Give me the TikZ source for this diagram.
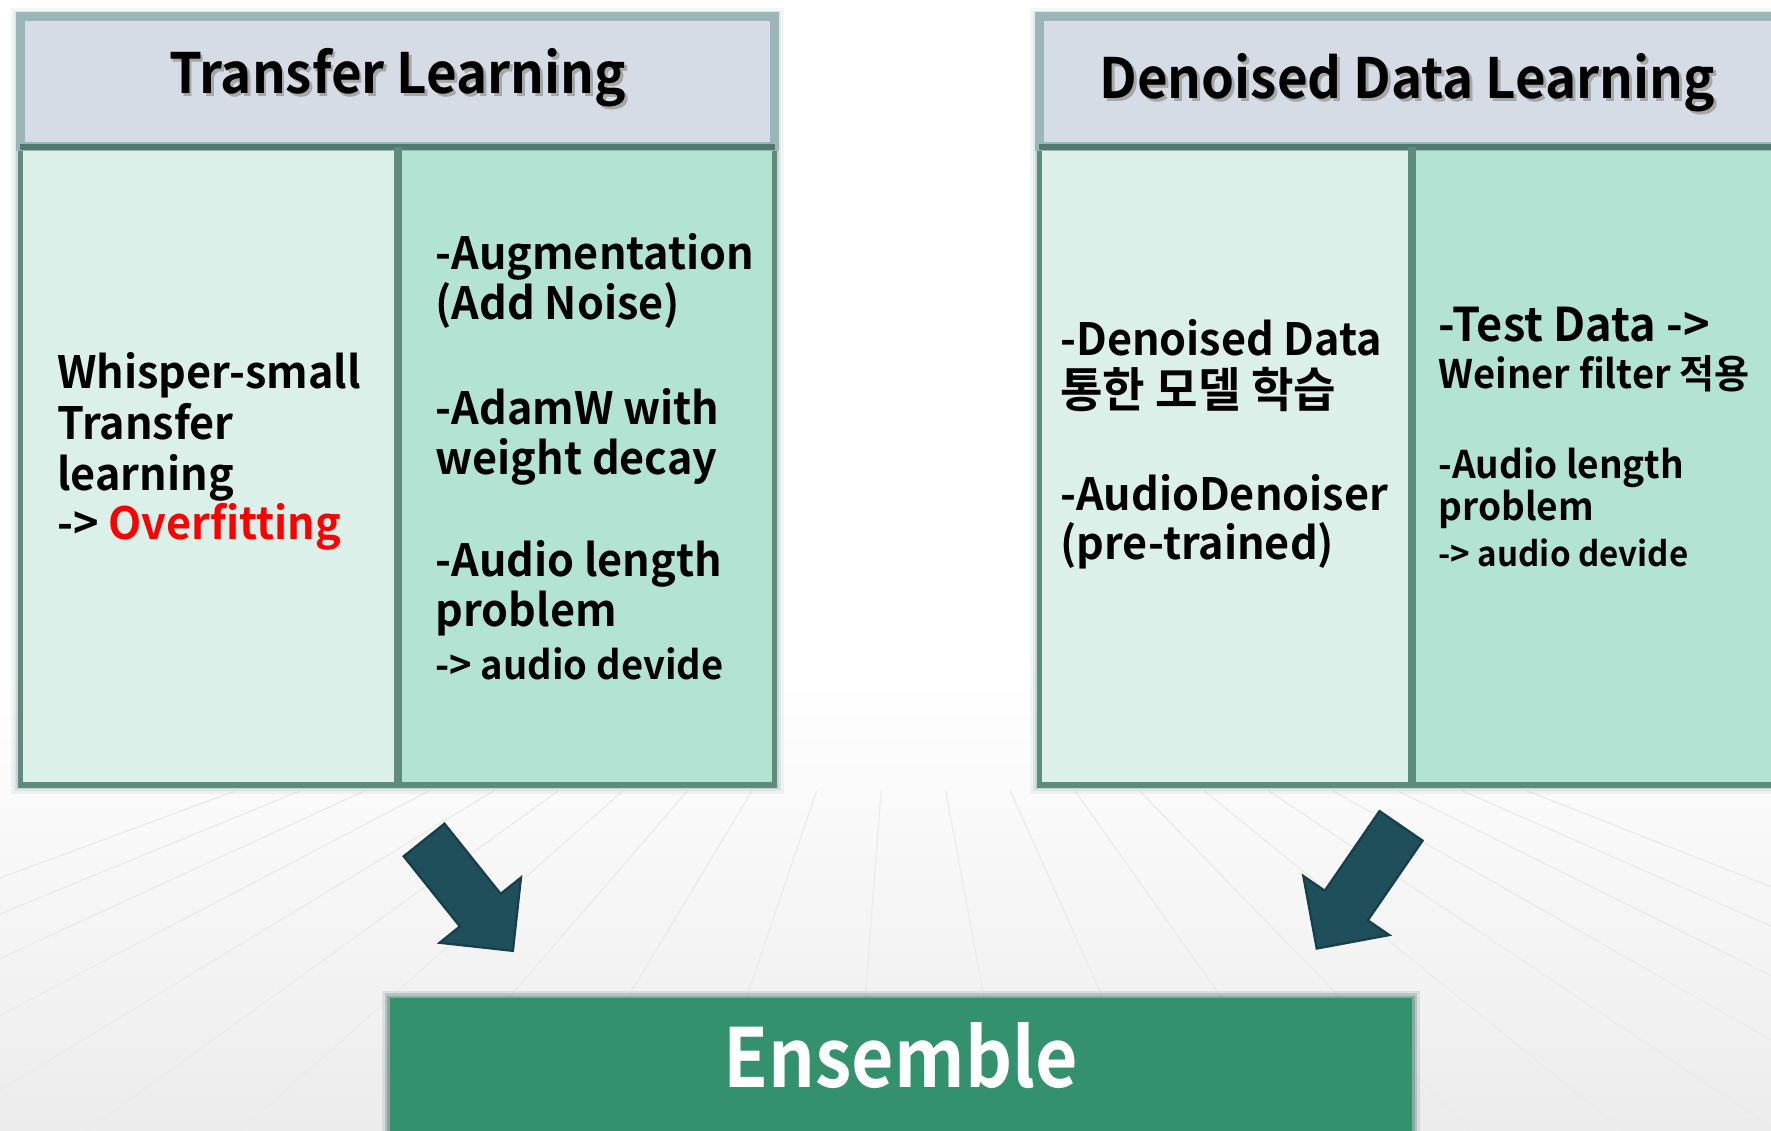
\documentclass[tikz,border=0pt]{standalone}
\usepackage{fontspec}
\setmainfont{Noto Sans CJK KR}[BoldFont={Noto Sans CJK KR Bold}, FakeStretch=0.97]
\newfontfamily\titlefont{Noto Sans CJK KR Bold}[FakeStretch=0.95]
\newfontfamily\ensfont{Noto Sans CJK KR Bold}[FakeStretch=0.9]
\usetikzlibrary{shapes.arrows}
\definecolor{headfill}{HTML}{D5DCE6}
\definecolor{headedge}{HTML}{9CB5B6}
\definecolor{mintA}{HTML}{DAF0E9}
\definecolor{mintB}{HTML}{B3E3D2}
\definecolor{coledge}{HTML}{5E8B7C}
\definecolor{ruleedge}{HTML}{4F7A70}
\definecolor{arrowfill}{HTML}{1F4F5B}
\definecolor{arrowedge}{HTML}{17404A}
\definecolor{ensfill}{HTML}{33916D}
\definecolor{floor}{HTML}{ECECEC}
\newcommand\smallb{\fontsize{9.9}{11}\selectfont}
\newcommand\tinyb{\fontsize{8.6}{10}\selectfont}
\tikzset{
  headbox/.style={fill=headfill, draw=headedge, line width=0.08cm},
  colA/.style={fill=mintA, draw=coledge, line width=0.045cm},
  colB/.style={fill=mintB, draw=coledge, line width=0.045cm},
  divider/.style={draw=coledge, line width=0.07cm},
  rule/.style={draw=ruleedge, line width=0.05cm},
  glow/.style={draw=headedge},
  floorline/.style={draw=gray!16, line width=0.3pt},
  title/.style={font=\titlefont\fontsize{14}{16}\selectfont, anchor=base, inner sep=0pt},
  body/.style={font=\bfseries\fontsize{11.2}{13}\selectfont, anchor=base west, inner sep=0pt},
  bodyr/.style={font=\bfseries\fontsize{9.6}{11}\selectfont, anchor=base west, inner sep=0pt},
  bigarrow/.style={single arrow, fill=arrowfill, draw=arrowedge, line width=0.6pt,
    inner xsep=0pt, inner ysep=0.22cm, single arrow head extend=0.23cm,
    single arrow tip angle=90, anchor=tip},
}
\begin{document}
\begin{tikzpicture}[x=0.01cm,y=-0.01cm]
\useasboundingbox (0,0) rectangle (1568,1001);
\clip (0,0) rectangle (1568,1001);
% floor
\shade[top color=white, bottom color=floor] (0,600) rectangle (1568,1001);
\foreach \k in {-10,...,10}
  \draw[floorline] ({797+0.42*(136*\k-40)},700) -- ({757+136*\k},1001);

% Transfer Learning panel
\foreach \w/\o in {0.16cm/0.12,0.11cm/0.2,0.07cm/0.35}
  \draw[glow, line width=\w, opacity=\o] (18,15) rectangle (686,695);
\draw[colA] (18,130) rectangle (352,695);
\draw[colB] (352,130) rectangle (686,695);
\draw[headbox] (18,15) rectangle (686,130);
\draw[rule] (18,130) -- (686,130);
\draw[divider] (352,130) -- (352,695);
\node[title, text=gray!70] at (354.5,85.5) {Transfer Learning};
\node[title] (tlHead) at (352,83) {Transfer Learning};
\foreach \y/\t [count=\i] in {344/Whisper-small, 389/Transfer, 434/learning,
    478/{-> \textcolor{red}{Overfitting}}}
  \node[body] (tlA\i) at (50,\y) {\t};
\foreach \y/\t [count=\i] in {239/-Augmentation, 283/(Add Noise), 376/-AdamW with,
    420/weight decay, 510/-Audio length, 555/problem, 602/{\smallb -> audio devide}}
  \node[body] (tlB\i) at (385,\y) {\t};

% Denoised Data Learning panel
\foreach \w/\o in {0.16cm/0.12,0.11cm/0.2,0.07cm/0.35}
  \draw[glow, line width=\w, opacity=\o] (920,15) rectangle (1620,695);
\draw[colA] (920,130) rectangle (1250,695);
\draw[colB] (1250,130) rectangle (1620,695);
\draw[headbox] (920,15) rectangle (1620,130);
\draw[rule] (920,130) -- (1620,130);
\draw[divider] (1250,130) -- (1250,695);
\node[title, text=gray!70] at (1248.5,89.5) {Denoised Data Learning};
\node[title] (ddHead) at (1246,87) {Denoised Data Learning};
\foreach \y/\t [count=\i] in {315/-Denoised Data, 361/{\fontsize{12}{13}\selectfont 통한 모델 학습},
    452/-AudioDenoiser, 495/(pre-trained)}
  \node[body] (ddA\i) at (938,\y) {\t};
\foreach \y/\t [count=\i] in {302/{\fontsize{11.7}{13}\selectfont -Test Data ->},
    344/{\smallb Weiner filter 적용}, 424/-Audio length, 461/problem,
    502/{\tinyb -> audio devide}}
  \node[bodyr] (ddB\i) at (1273,\y) {\t};

% arrows
\node[bigarrow, minimum height=1.256cm, rotate=-51.3] (arrL) at (455,843) {};
\node[bigarrow, minimum height=1.316cm, rotate=-124.5] (arrR) at (1165,841) {};

% Ensemble
\foreach \w/\o in {0.14cm/0.15,0.09cm/0.25,0.05cm/0.4}
  \draw[draw=ruleedge, line width=\w, opacity=\o] (345,884) rectangle (1250,1030);
\fill[ensfill] (345,884) rectangle (1250,1030);
\node[title, text=white, font=\ensfont\fontsize{20.5}{24}\selectfont] (ens) at (797.5,963) {Ensemble};
\end{tikzpicture}
\end{document}
